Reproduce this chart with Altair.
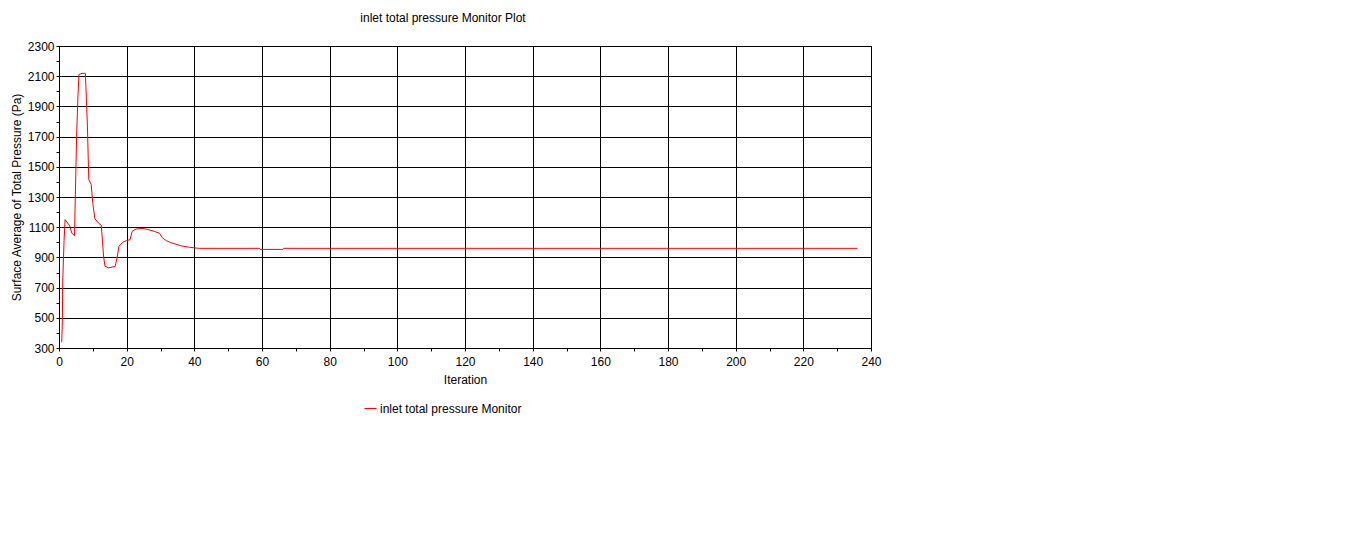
import altair as alt
import pandas as pd

# Values
iterations = [0.8, 1.0, 1.1, 1.5, 1.8, 3.1, 3.8, 4.6, 4.7, 5.2, 5.6, 5.9, 6.8, 7.8,
              8.4, 8.8, 9.5, 10.0, 10.6, 11.7, 12.5, 13.2, 13.6, 14.6, 16.6, 17.2,
              17.7, 18.9, 20.0, 21.0, 21.6, 22.8, 24.8, 26.3, 28.2, 29.7, 30.5,
              31.7, 33.2, 34.6, 36.4, 38.6, 41.3, 59.3, 59.5, 66.2, 66.4, 236.0]
pressure = [338, 477, 743, 1012, 1150, 1112, 1061, 1043, 1174, 1698, 1968, 2112,
            2119, 2119, 1769, 1415, 1384, 1256, 1156, 1127, 1112, 902, 842, 831,
            840, 902, 973, 1001, 1012, 1017, 1072, 1088, 1092, 1085, 1072, 1060,
            1031, 1011, 997, 987, 975, 967, 960, 960, 953, 953, 960, 960]
series_name = "inlet total pressure Monitor"

x_ticks = list(range(0, 241, 10))
y_ticks = list(range(300, 2301, 100))

df = pd.DataFrame({
    "Iteration": iterations,
    "Pressure": pressure,
    "Series": [series_name] * len(iterations),
})

FONT = "Liberation Sans"

x_axis = alt.Axis(
    values=x_ticks,
    format="d",
    labelExpr="datum.value % 20 === 0 ? datum.label : ''",
    gridOpacity={"condition": {"test": "datum.value % 20 === 0", "value": 1}, "value": 0},
    gridColor="black", gridWidth=1,
    domainColor="black", tickColor="black", tickSize=3,
    labelFont=FONT, labelFontSize=12, labelColor="black", labelPadding=5,
    labelFlush=False,
    title="Iteration", titleFont=FONT, titleFontSize=12, titleFontWeight="normal",
    titleColor="black", titlePadding=7,
)

y_axis = alt.Axis(
    values=y_ticks,
    format="d",
    labelExpr="(datum.value - 300) % 200 === 0 ? datum.label : ''",
    gridOpacity={"condition": {"test": "(datum.value - 300) % 200 === 0", "value": 1}, "value": 0},
    gridColor="black", gridWidth=1,
    domainColor="black", tickColor="black", tickSize=3,
    labelFont=FONT, labelFontSize=12, labelColor="black", labelPadding=2,
    labelFlush=False,
    title="Surface Average of Total Pressure (Pa)", titleFont=FONT, titleFontSize=12,
    titleFontWeight="normal", titleColor="black", titlePadding=4,
)

chart = alt.Chart(df).mark_line(strokeWidth=1).encode(
    x=alt.X("Iteration:Q", scale=alt.Scale(domain=[0, 240], nice=False, zero=False), axis=x_axis),
    y=alt.Y("Pressure:Q", scale=alt.Scale(domain=[300, 2300], nice=False, zero=False), axis=y_axis),
    color=alt.Color(
        "Series:N",
        scale=alt.Scale(range=["#ff0000"]),
        legend=alt.Legend(
            title=None, orient="none", legendX=305, legendY=356,
            symbolType="stroke", symbolStrokeWidth=1, symbolSize=144,
            labelFont=FONT, labelFontSize=12, labelColor="black", labelOffset=3,
        ),
    ),
).properties(
    width=812,
    height=302,
    autosize="none",
    padding={"left": 51, "top": 38, "right": 469, "bottom": 185},
    title=alt.TitleParams(
        "inlet total pressure Monitor Plot", font=FONT, fontSize=12,
        fontWeight="normal", color="black", dx=-22, offset=15,
    ),
).configure_view(stroke="black", strokeWidth=1)

chart.save("out.html", embed_options={"renderer": "svg", "actions": False})
